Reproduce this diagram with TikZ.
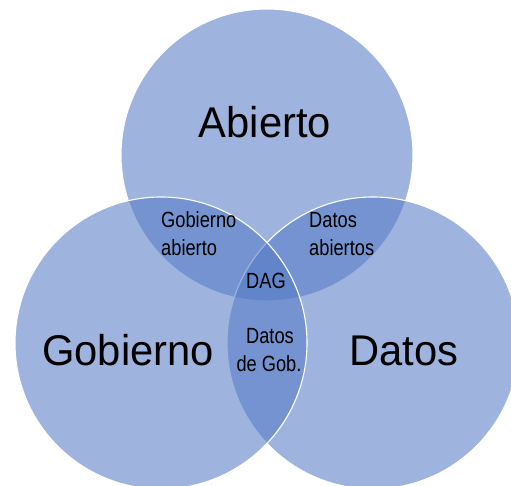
\documentclass[tikz,border=0pt]{standalone}
\usepackage{fontspec}
\setmainfont{Liberation Sans}
\newfontfamily\condfont[FakeStretch=0.83]{Liberation Sans}
\newfontfamily\bigfont[FakeStretch=0.97]{Liberation Sans}
\definecolor{vennblue}{RGB}{85,123,197}
\tikzset{
  vset/.style={fill=vennblue, fill opacity=0.57, draw=white, line width=1.1pt},
  biglabel/.style={font=\bigfont\fontsize{43}{50}\selectfont, text=black, inner sep=0pt},
  smalllabel/.style={font=\condfont\fontsize{22}{28}\selectfont, text=black, inner sep=0pt, align=left},
  smallcenter/.style={font=\condfont\fontsize{22}{28}\selectfont, text=black, inner sep=0pt, align=center}
}
\begin{document}
\begin{tikzpicture}[x=1pt,y=-1pt]
\useasboundingbox (0,0) rectangle (511,486);
\begin{scope}
\clip (0,0) rectangle (511,486);
\path[vset] (267,155) circle (146);
\path[vset] (373,343) circle (146);
\path[vset] (161,343) circle (146);
\end{scope}
\node[biglabel, anchor=base] (abierto) at (265,138) {Abierto};
\node[biglabel, anchor=base] (gobierno) at (128,365) {Gobierno};
\node[biglabel, anchor=base] (datos) at (404,365) {Datos};
\node[smalllabel, anchor=base west] (ga1) at (161,228) {Gobierno};
\node[smalllabel, anchor=base west] (ga2) at (161,256) {abierto};
\node[smalllabel, anchor=base west] (da1) at (309,228) {Datos};
\node[smalllabel, anchor=base west] (da2) at (309,255) {abiertos};
\node[smallcenter, anchor=base] (dag) at (266,288) {DAG};
\node[smallcenter, anchor=base] (dg1) at (270,343) {Datos};
\node[smallcenter, anchor=base] (dg2) at (269,371) {de Gob.};
\end{tikzpicture}
\end{document}
